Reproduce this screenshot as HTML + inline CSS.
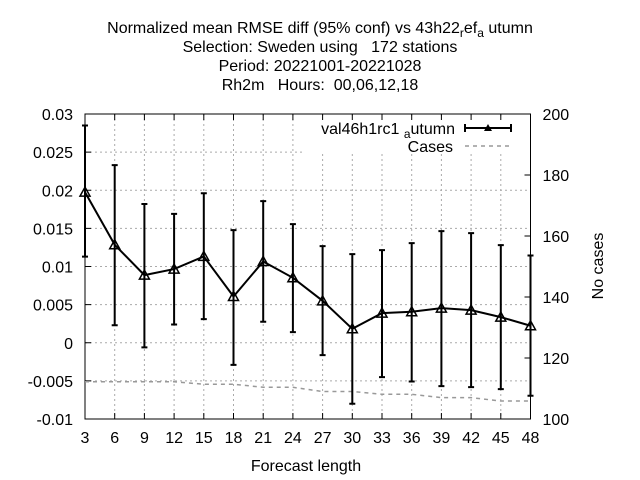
<!DOCTYPE html>
<html><head><meta charset="utf-8"><style>
body{margin:0;background:#fff}
svg{display:block;font-family:"Liberation Sans",sans-serif}
text{white-space:pre}
</style></head><body>
<svg id="c" width="640" height="480" viewBox="0 0 640 480">
<g font-size="16" text-anchor="middle" fill="#000">
<text x="320" y="33">Normalized mean RMSE diff (95% conf) vs 43h22<tspan font-size="12" dy="4">r</tspan><tspan dy="-4">ef</tspan><tspan font-size="12" dy="4">a</tspan><tspan dy="-4"> utumn</tspan></text>
<text x="320" y="52">Selection: Sweden using   172 stations</text>
<text x="320" y="71">Period: 20221001-20221028</text>
<text x="320" y="90">Rh2m   Hours:  00,06,12,18</text>
</g>
<g id="grid"></g>
<rect x="305" y="116" width="222" height="38" fill="#fff"/>
<g id="axes"></g>
<g id="series"></g>
<g font-size="16">
<text x="455" y="134" text-anchor="end">val46h1rc1 <tspan font-size="12" dy="4">a</tspan><tspan dy="-4">utumn</tspan></text>
<path d="M465 128 H511 M465 124 V132 M511 124 V132" stroke="#000" stroke-width="2"/>
<path d="M488 124 L492 131 L484 131 Z" fill="#000"/>
<text x="453" y="152" text-anchor="end">Cases</text>
<path d="M465 146 H511" stroke="#999" stroke-width="1.5" stroke-dasharray="4,4"/>
</g>
<text x="306" y="471" font-size="16" text-anchor="middle">Forecast length</text>
<text transform="translate(603,266) rotate(-90)" font-size="16" text-anchor="middle">No cases</text>
</svg>
<script>
const hours=[3,6,9,12,15,18,21,24,27,30,33,36,39,42,45,48];
const values=[0.01975,0.01285,0.00887,0.00966,0.01132,0.00607,0.01066,0.00852,0.0055,0.00183,0.00389,0.00406,0.00454,0.00428,0.00336,0.00223];
const upper=[0.0285,0.0233,0.0182,0.0169,0.0196,0.01477,0.01857,0.01556,0.01267,0.01162,0.01215,0.01306,0.01464,0.01437,0.0128,0.01145];
const lower=[0.0113,0.0023,-0.0006,0.0024,0.0031,-0.0029,0.00275,0.0014,-0.00162,-0.008,-0.00451,-0.00508,-0.00569,-0.00582,-0.00609,-0.00695];
const cases=[112.2,112.2,112.2,112.2,111.4,111.4,110.4,110.4,109,109,108.1,108.1,107,107,105.9,105.9];
const yTicks=[-0.01,-0.005,0,0.005,0.01,0.015,0.02,0.025,0.03];
const yTickLabels=["-0.01","-0.005","0","0.005","0.01","0.015","0.02","0.025","0.03"];
const y2Ticks=[100,120,140,160,180,200];

const L=85,R=530.5,T=114,B=419;
const X=h=>L+(h-3)/(48-3)*(R-L);
const Y=v=>B-(v+0.01)/0.04*(B-T);
const Y2=v=>B-(v-100)/100*(B-T);
const NS="http://www.w3.org/2000/svg";
function mk(p,tag,attrs){const e=document.createElementNS(NS,tag);for(const k in attrs)e.setAttribute(k,attrs[k]);p.appendChild(e);return e;}
const grid=document.getElementById('grid'),axes=document.getElementById('axes'),ser=document.getElementById('series');
hours.forEach(h=>{
  const g=mk(grid,'line',{x1:X(h),x2:X(h),y1:T,y2:B,stroke:'#aaa','stroke-dasharray':'2,3','stroke-width':1});
  
  
  const t=mk(axes,'text',{x:X(h),y:B+24,'font-size':16,'text-anchor':'middle'});
  
  
  t.textContent=h;
  mk(axes,'line',{x1:X(h),x2:X(h),y1:B,y2:B-6,stroke:'#000'});
  mk(axes,'line',{x1:X(h),x2:X(h),y1:T,y2:T+6,stroke:'#000'});
});
yTicks.forEach((v,i)=>{
  const g=mk(grid,'line',{x1:L,x2:R,y1:Y(v),y2:Y(v),stroke:'#aaa','stroke-dasharray':'2,3','stroke-width':1});
  
  
  const t=mk(axes,'text',{x:L-12,y:Y(v)+6,'font-size':16,'text-anchor':'end'});
  
  
  t.textContent=yTickLabels[i];
  mk(axes,'line',{x1:L,x2:L+6,y1:Y(v),y2:Y(v),stroke:'#000'});
});
y2Ticks.forEach(v=>{
  const t=mk(axes,'text',{x:R+12,y:Y2(v)+6,'font-size':16});
  
  
  t.textContent=v;
  mk(axes,'line',{x1:R,x2:R-6,y1:Y2(v),y2:Y2(v),stroke:'#000'});
});
const fr=mk(axes,'rect',{x:L,y:T,width:R-L,height:B-T,fill:'none',stroke:'#000'});


const cl=mk(ser,'polyline',{points:hours.map((h,i)=>X(h)+','+Y2(cases[i])).join(' '),fill:'none',stroke:'#999','stroke-width':1.5,'stroke-dasharray':'4,4'});


hours.forEach((h,i)=>{
  const e=mk(ser,'path',{d:`M${X(h)} ${Y(upper[i])}V${Y(lower[i])}M${X(h)-3} ${Y(upper[i])}H${X(h)+3}M${X(h)-3} ${Y(lower[i])}H${X(h)+3}`,stroke:'#000','stroke-width':2,fill:'none'});
  
  
});
const ml=mk(ser,'polyline',{points:hours.map((h,i)=>X(h)+','+Y(values[i])).join(' '),fill:'none',stroke:'#000','stroke-width':2});


hours.forEach((h,i)=>{
  const x=X(h),y=Y(values[i]);
  const p=mk(ser,'path',{d:`M${x} ${y-5}L${x+5} ${y+4}L${x-5} ${y+4}Z`,fill:'none',stroke:'#000','stroke-width':1.5});
  
  
});
</script>
</body></html>
